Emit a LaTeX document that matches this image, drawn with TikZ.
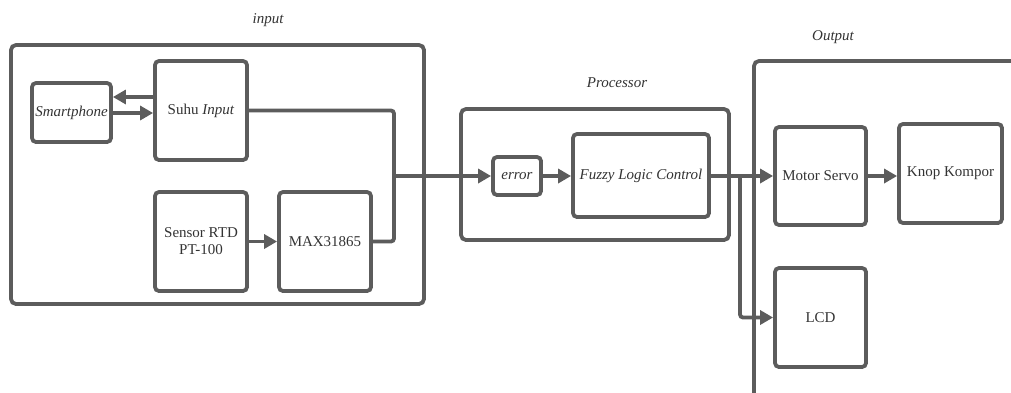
\documentclass[tikz,border=0pt]{standalone}
\usepackage{fontspec}
\setmainfont{Liberation Serif}
\usepackage{tikz}
\usetikzlibrary{arrows.meta, positioning}
\definecolor{lineGray}{gray}{0.36}
\definecolor{textGray}{gray}{0.2}

\tikzset{
  blk/.style={draw=lineGray, line width=3.8pt, rounded corners=4pt, align=center,
    text=textGray, inner sep=0pt, font=\fontsize{15}{17}\selectfont},
  grp/.style={draw=lineGray, line width=3.8pt, rounded corners=5pt, inner sep=0pt},
  lbl/.style={text=textGray, font=\fontsize{15}{17}\selectfont\itshape},
  wire/.style={draw=lineGray, line width=3.8pt},
  flow/.style={wire, -{Triangle[length=13pt,width=14pt]}},
}

\begin{document}
\begin{tikzpicture}[x=1pt, y=-1pt]
    \useasboundingbox (0,0) rectangle (1011,392);
    \clip (0,0) rectangle (1011,392);

    % groups
    \node[grp, minimum width=413, minimum height=259] (inbox) at (217.5,174.5) {};
    \node[grp, minimum width=268, minimum height=131] (procbox) at (595,174.5) {};
    \node[grp, minimum width=346, minimum height=389] (outbox) at (927,255.5) {};
    \node[lbl] (inlbl) at (268,20) {input};
    \node[lbl] (proclbl) at (617,83) {Processor};
    \node[lbl] (outlbl) at (833,37) {Output};

    % input side
    \node[blk, minimum width=79, minimum height=59] (smart) at (71.5,112.5) {\textit{Smartphone}};
    \node[blk, minimum width=92, minimum height=99] (suhu) at (201,110.5) {Suhu \textit{Input}};
    \node[blk, minimum width=92, minimum height=99] (rtd) at (201,241.5) {Sensor RTD\\PT-100};
    \node[blk, minimum width=92, minimum height=99] (max) at (325,241.5) {MAX31865};

    % processor
    \node[blk, minimum width=48, minimum height=38] (err) at (517,176) {\textit{error}};
    \node[blk, minimum width=136, minimum height=83] (flc) at (641,175.5) {\textit{Fuzzy Logic Control}};

    % output side
    \node[blk, minimum width=91, minimum height=98] (servo) at (820.5,176) {Motor Servo};
    \node[blk, minimum width=103, minimum height=99] (knop) at (950.5,173.5) {Knop Kompor};
    \node[blk, minimum width=91, minimum height=99] (lcd) at (820.5,317.5) {LCD};

    \coordinate (hi) at (0,97);
    \coordinate (lo) at (0,113);
    \coordinate (jn) at (394,176);
    \coordinate (br) at (740,176);

    \draw[flow, line width=3.2pt] (suhu.west |- hi) -- (smart.east |- hi);
    \draw[flow, line width=3.2pt] (smart.east |- lo) -- (suhu.west |- lo);
    \draw[flow] (rtd) -- (max);
    \draw[wire, rounded corners=3pt] (suhu.east) -| (jn) |- (max.east);
    \draw[flow] (jn) -- (err.west);
    \draw[flow] (err.east) -- (err.east -| flc.west);
    \draw[flow] (flc.east |- servo.west) -- (servo.west);
    \draw[flow, rounded corners=3pt] (br) |- (lcd.west);
    \draw[flow] (servo.east) -- (servo.east -| knop.west);
\end{tikzpicture}
\end{document}
